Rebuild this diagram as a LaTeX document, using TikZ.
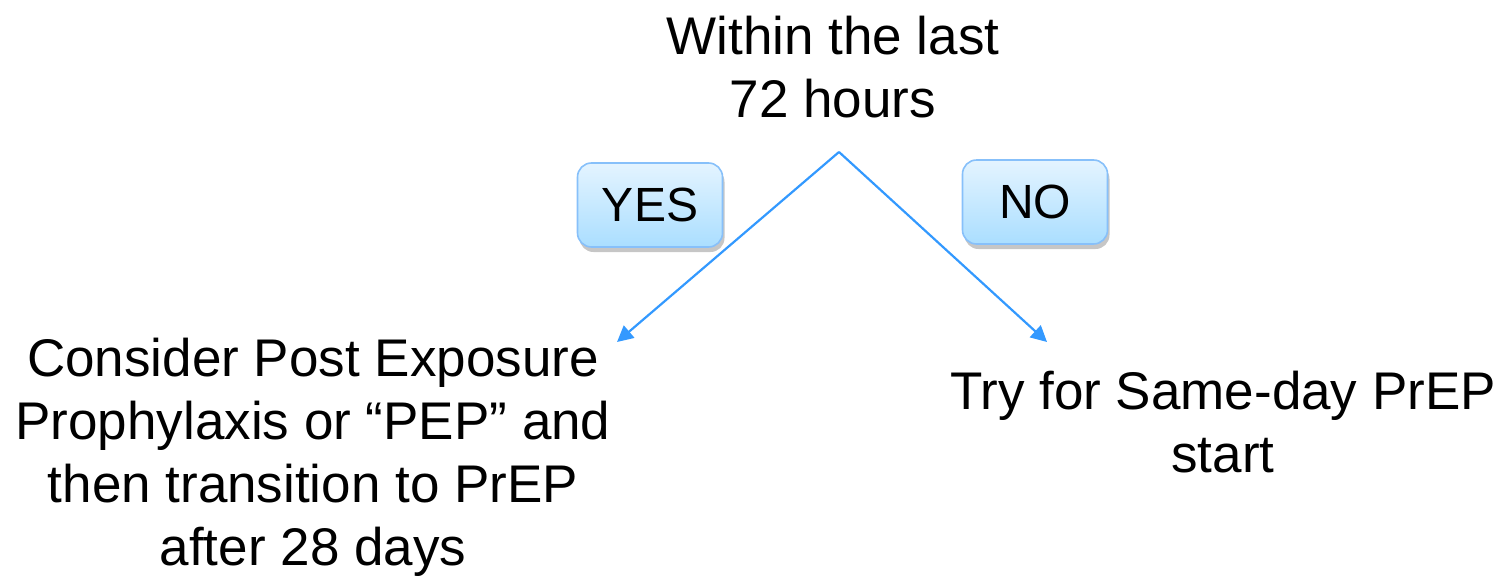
\documentclass[tikz,border=0pt]{standalone}
\usepackage{fontspec}
\setmainfont{Liberation Sans}
\usetikzlibrary{arrows.meta,shadows,positioning}
\definecolor{flowblue}{RGB}{51,153,255}
\definecolor{boxedge}{RGB}{135,192,250}
\definecolor{boxtop}{RGB}{228,244,255}
\definecolor{boxbottom}{RGB}{170,222,255}
\tikzset{
  bigtext/.style={align=center,font=\fontsize{26.5}{31.5}\selectfont},
  answer/.style={draw=boxedge,line width=0.8pt,rounded corners=7pt,
    top color=boxtop,bottom color=boxbottom,
    minimum width=72.5pt,minimum height=42pt,
    font=\fontsize{24}{28}\selectfont,
    drop shadow={opacity=0.45,shadow xshift=1pt,shadow yshift=-2.5pt}},
  flow/.style={draw=flowblue,line width=1.1pt,-{Triangle[width=8pt,length=8pt]}}
}
\begin{document}
\begin{tikzpicture}[x=0.5pt,y=-0.5pt]
\useasboundingbox (0,0) rectangle (1503,578);
\node[bigtext] (within) at (833,67) {Within the last\\72 hours};
\node[answer] (yes) at (650,205) {YES};
\node[answer] (no) at (1035,202) {NO};
\node[bigtext] (pep) at (313,457) {Consider Post Exposure\\Prophylaxis or “PEP” and\\then transition to PrEP\\after 28 days};
\node[bigtext] (sameday) at (1223,422) {Try for Same-day PrEP\\start};
% arrow ends
\coordinate (split) at (839,152);
\coordinate (peptip) at (617,342);
\coordinate (sametip) at (1047,342);
\draw[flow] (split) -- (peptip);
\draw[flow] (split) -- (sametip);
\end{tikzpicture}
\end{document}
